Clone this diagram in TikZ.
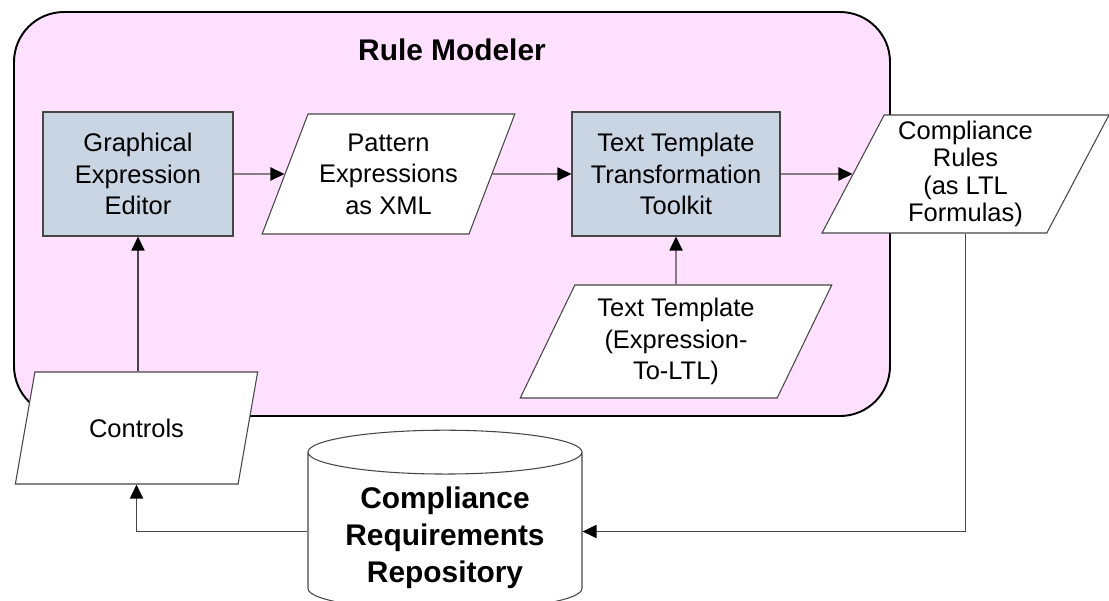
\documentclass[tikz,border=0pt]{standalone}
\usepackage{fontspec}
\setmainfont{Liberation Sans}
\usetikzlibrary{shapes.geometric,arrows.meta}

\definecolor{modelerpink}{RGB}{255,225,255}
\definecolor{toolblue}{RGB}{201,213,227}
\definecolor{edgegray}{RGB}{70,70,70}

\begin{document}
\begin{tikzpicture}[
  tool/.style={draw=edgegray, line width=0.6pt, fill=toolblue, align=center,
    inner sep=0pt, font=\fontsize{14.5}{18}\selectfont},
  data/.style={draw=edgegray, line width=0.6pt, fill=white, align=center,
    trapezium, trapezium left angle=64, trapezium right angle=116,
    trapezium stretches=true, inner sep=0pt, font=\fontsize{14.5}{18}\selectfont},
  flow/.style={draw=edgegray, line width=0.8pt, -{Triangle[length=8pt,width=7.5pt,color=black]}}
]
\useasboundingbox (0,0) rectangle (22.18,-12);

% rule modeler frame
\draw[line width=1.1pt, fill=modelerpink, rounded corners=1cm] (0.28,-0.24) rectangle (17.80,-8.32);
\node[font=\bfseries\fontsize{17}{20}\selectfont] (title) at (9.04,-1.00) {Rule Modeler};

% tools and their data
\node[tool, minimum width=3.80cm, minimum height=2.48cm] (gee) at (2.76,-3.48) {Graphical\\Expression\\Editor};
\node[data, minimum width=5.06cm, minimum height=2.40cm] (pat) at (7.77,-3.48) {Pattern\\Expressions\\as XML};
\node[tool, minimum width=4.16cm, minimum height=2.48cm] (ttt) at (13.52,-3.48) {Text Template\\Transformation\\Toolkit};
\node[data, minimum width=5.74cm, minimum height=2.36cm, font=\fontsize{14.5}{15.5}\selectfont] (rules) at (19.31,-3.48) {Compliance\\Rules\\(as LTL\\Formulas)};
\node[data, minimum width=6.24cm, minimum height=2.26cm] (tmpl) at (13.52,-6.83) {Text Template\\(Expression-\\To-LTL)};
\node[data, minimum width=4.86cm, minimum height=2.24cm] (ctrl) at (2.73,-8.56) {Controls};

% repository
\node[cylinder, shape border rotate=90, aspect=0.22, draw=edgegray, line width=0.6pt, fill=white,
  minimum width=5.48cm, minimum height=2.96cm, inner sep=0pt, align=center,
  font=\bfseries\fontsize{17}{21}\selectfont] (repo) at (8.90,-10.63)
  {\\[-0.06cm]Compliance\\Requirements\\Repository};

% connectors
\draw[flow] (gee.east) -- (pat.west);
\draw[flow] (pat.east) -- (ttt.west);
\draw[flow] (ttt.east) -- (rules.west);
\draw[flow] (tmpl.north) -- (ttt.south);
\draw[flow] (ctrl.north -| gee.south) -- (gee.south);
\draw[flow] (rules.south) |- (repo.east);
\draw[flow] (repo.west) -| (ctrl.south);
\end{tikzpicture}
\end{document}
